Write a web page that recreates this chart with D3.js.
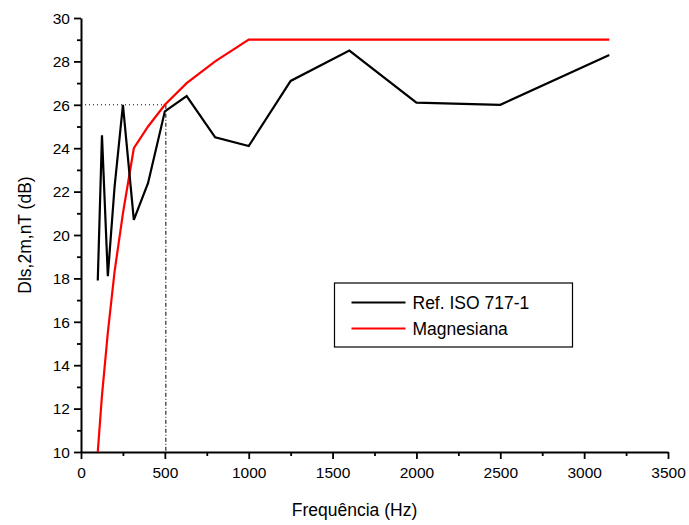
<!DOCTYPE html>
<html>
<head>
<meta charset="utf-8">
<script src="https://cdn.jsdelivr.net/npm/d3@7"></script>
<style>
  body { margin: 0; background: #fff; }
  svg { font-family: "Liberation Sans", Arial, sans-serif; }
</style>
</head>
<body>
<div id="box"></div>
<script>
// frequências de terço de oitava (Hz)
let freqs = [100, 125, 160, 200, 250, 315, 400, 500, 630, 800, 1000, 1250, 1600, 2000, 2500, 3150];
// Ref. ISO 717-1
let refIso = [17.9, 24.6, 18.1, 22.2, 26.0, 20.7, 22.4, 25.7, 26.4, 24.5, 24.1, 27.1, 28.5, 26.1, 26.0, 28.3];
// Magnesiana
let magnesiana = [10.0, 12.6, 15.5, 18.3, 21.0, 24.0, 25.0, 26.0, 27.0, 28.0, 29.0, 29.0, 29.0, 29.0, 29.0, 29.0];

let xTicks = [0, 500, 1000, 1500, 2000, 2500, 3000, 3500];
let yTicks = [10, 12, 14, 16, 18, 20, 22, 24, 26, 28, 30];
let refPoint = { f: 500, db: 26 };

let width = 689, height = 525;
let margin = { left: 81, right: 21, top: 18, bottom: 73 };

let svg = d3.select('#box')
    .append('svg')
    .attr('width', width)
    .attr('height', height);

let x = d3.scaleLinear().domain([0, 3500]).range([margin.left, width - margin.right]);
let y = d3.scaleLinear().domain([10, 30]).range([height - margin.bottom, margin.top]);

// eixos
let xAxis = svg.append('g')
    .attr('transform', `translate(0,${y(10)})`)
    .call(d3.axisBottom(x).tickValues(xTicks).tickSize(7).tickSizeOuter(0).tickFormat(d3.format('d')));
svg.append('g')
    .attr('transform', `translate(0,${y(10)})`)
    .call(d3.axisBottom(x).tickValues(d3.range(250, 3500, 500)).tickSize(4).tickFormat(''))
    .select('.domain').remove();

let yAxis = svg.append('g')
    .attr('transform', `translate(${x(0)},0)`)
    .call(d3.axisLeft(y).tickValues(yTicks).tickSize(7).tickSizeOuter(0));
svg.append('g')
    .attr('transform', `translate(${x(0)},0)`)
    .call(d3.axisLeft(y).tickValues(d3.range(11, 30, 2)).tickSize(4).tickFormat(''))
    .select('.domain').remove();

svg.selectAll('.domain').attr('stroke', '#000').attr('stroke-width', 2);
svg.selectAll('.tick line').attr('stroke', '#000').attr('stroke-width', 1.8);
xAxis.selectAll('text').attr('font-size', 15.5).attr('fill', '#000').attr('dy', '1.05em');
yAxis.selectAll('text').attr('font-size', 15.5).attr('fill', '#000').attr('dy', '0.34em').attr('x', -11);

// linhas de referência 500 Hz / 26 dB
svg.append('line')
    .attr('x1', x(0)).attr('y1', y(refPoint.db))
    .attr('x2', x(refPoint.f)).attr('y2', y(refPoint.db))
    .attr('stroke', '#000').attr('stroke-width', 1)
    .attr('stroke-dasharray', '1,3');
svg.append('line')
    .attr('x1', x(refPoint.f) + 1).attr('y1', y(refPoint.db))
    .attr('x2', x(refPoint.f) + 1).attr('y2', y(10))
    .attr('stroke', '#000').attr('stroke-width', 1)
    .attr('stroke-dasharray', '4,2,1,2');

// séries
let line = d3.line()
    .x((d, i) => x(freqs[i]))
    .y(d => y(d));

svg.append('path')
    .datum(magnesiana)
    .attr('d', line)
    .attr('fill', 'none')
    .attr('stroke', '#ff0000')
    .attr('stroke-width', 2.2);

svg.append('path')
    .datum(refIso)
    .attr('d', line)
    .attr('fill', 'none')
    .attr('stroke', '#000')
    .attr('stroke-width', 2.2);

// legenda
let legend = svg.append('g').attr('transform', 'translate(334.5,283)');
legend.append('rect')
    .attr('width', 238).attr('height', 64)
    .attr('fill', '#fff').attr('stroke', '#000').attr('stroke-width', 1.2);

let legendItems = [
    { name: 'Ref. ISO 717-1', color: '#000' },
    { name: 'Magnesiana', color: '#ff0000' }
];
legend.selectAll('.item')
    .data(legendItems)
    .enter()
    .append('g')
    .attr('class', 'item')
    .attr('transform', (d, i) => `translate(0,${19.5 + i * 26})`)
    .each(function(d) {
        let g = d3.select(this);
        g.append('line')
            .attr('x1', 17).attr('x2', 71)
            .attr('stroke', d.color).attr('stroke-width', 1.8);
        g.append('text')
            .attr('x', 78).attr('dy', '0.36em')
            .attr('font-size', 17.5)
            .text(d.name);
    });

// títulos dos eixos
svg.append('text')
    .attr('x', (x(0) + x(3500)) / 2 - 20)
    .attr('y', 516)
    .attr('text-anchor', 'middle')
    .attr('font-size', 17.5)
    .text('Frequência (Hz)');

svg.append('text')
    .attr('transform', `translate(31,${(y(10) + y(30)) / 2}) rotate(-90)`)
    .attr('text-anchor', 'middle')
    .attr('font-size', 17.5)
    .text('Dls,2m,nT (dB)');
</script>
</body>
</html>
